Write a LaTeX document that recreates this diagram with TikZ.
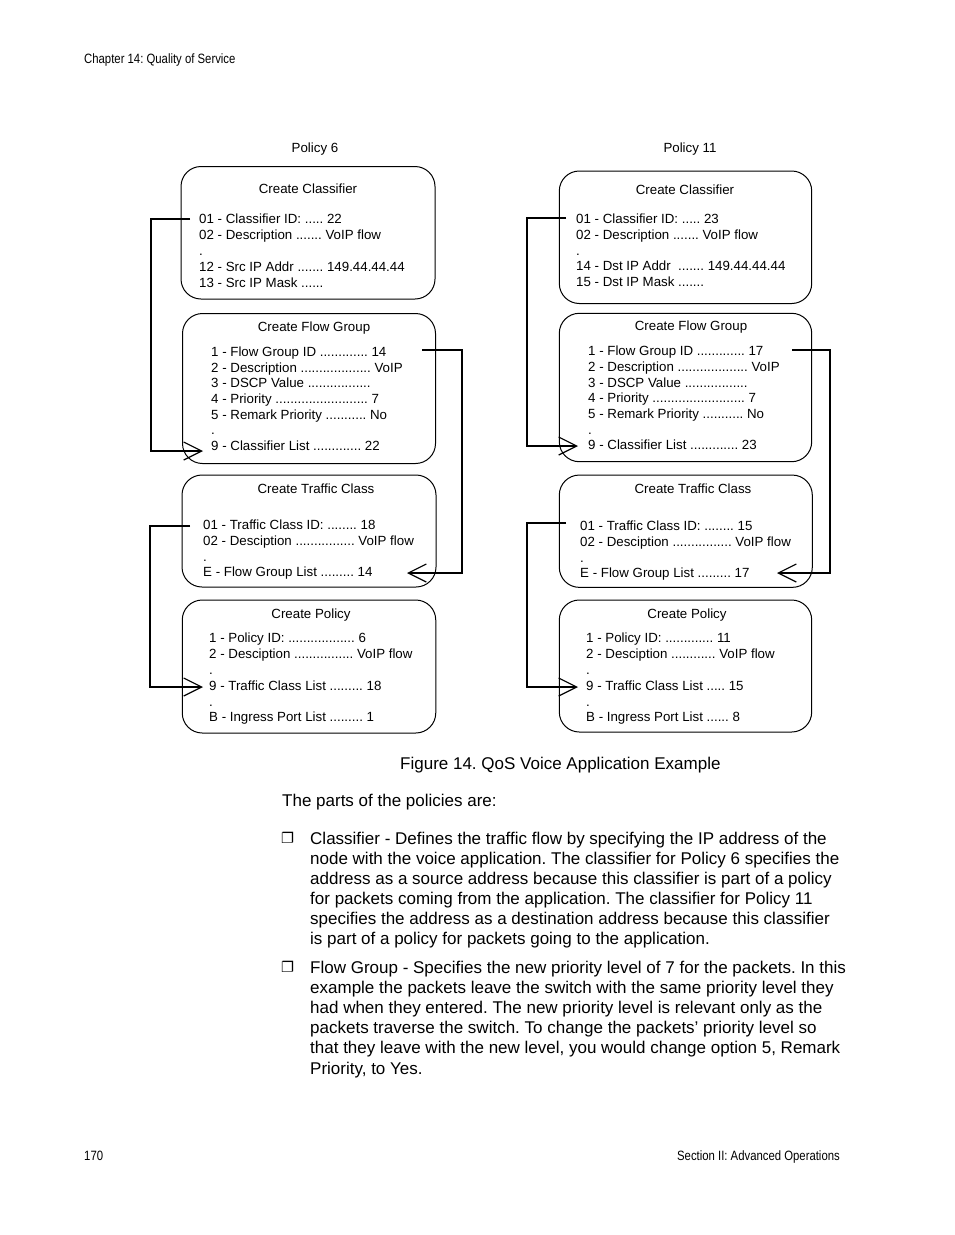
\documentclass[tikz,border=0pt]{standalone}
\usepackage{fontspec}
\setmainfont{Liberation Sans}
\newfontfamily\narrowfont[FakeStretch=0.84]{Liberation Sans}
\newfontfamily\dingfont{DejaVu Sans}
\usetikzlibrary{arrows.meta}
\newcommand{\dl}[4]{\node[dtxt] (#1) at (#2,#3) {#4};}
\frenchspacing
\begin{document}
\frenchspacing
\begin{tikzpicture}[x=1pt,y=-1pt,
  box/.style={draw=black, line width=1pt, rounded corners=20pt, inner sep=0pt},
  dtxt/.style={font=\fontsize{13.3}{15.8}\selectfont, inner sep=0pt, anchor=base west},
  dtitle/.style={font=\fontsize{13.3}{15.8}\selectfont, inner sep=0pt, anchor=base},
  btxt/.style={font=\fontsize{17}{20}\selectfont, inner sep=0pt, anchor=base west},
  ntxt/.style={font=\narrowfont\fontsize{13.5}{16}\selectfont, inner sep=0pt},
  bul/.style={font=\dingfont\fontsize{14.5}{15}\selectfont, inner sep=0pt, anchor=base west},
  conn/.style={line width=1.2pt, -{Straight Barb[length=18pt,width=18pt]}}]
\fill[white] (0,0) rectangle (954,1235);
\useasboundingbox (0,0) rectangle (954,1235);

% header / footer
\node[ntxt, anchor=base west] (hdr) at (84,63) {Chapter 14: Quality of Service};
\node[ntxt, anchor=base west] (pg) at (84,1160) {170};
\node[ntxt, anchor=base east] (sec) at (840,1160) {Section II: Advanced Operations};

% policy titles
\node[dtitle] (p6) at (315,152.8) {Policy 6};
\node[dtitle] (p11) at (690,152.8) {Policy 11};

% boxes left
\node[box, minimum width=254pt, minimum height=132.5pt] (L1) at (308,232.75) {};
\node[box, minimum width=253pt, minimum height=150pt] (L2) at (309,388.5) {};
\node[box, minimum width=254pt, minimum height=112pt] (L3) at (309,531) {};
\node[box, minimum width=253.5pt, minimum height=133pt] (L4) at (309,666.5) {};
% boxes right
\node[box, minimum width=252.4pt, minimum height=132.5pt] (R1) at (685.5,237.25) {};
\node[box, minimum width=252.4pt, minimum height=148.4pt] (R2) at (685.5,387.5) {};
\node[box, minimum width=253pt, minimum height=112.3pt] (R3) at (685.8,531.2) {};
\node[box, minimum width=252.4pt, minimum height=132pt] (R4) at (685.5,666) {};

% box titles
\node[dtitle] (L1t) at (308,193.8) {Create Classifier};
\node[dtitle] (L2t) at (314,331.8) {Create Flow Group};
\node[dtitle] (L3t) at (316,493.8) {Create Traffic Class};
\node[dtitle] (L4t) at (311,618.8) {Create Policy};
\node[dtitle] (R1t) at (685,194.8) {Create Classifier};
\node[dtitle] (R2t) at (691,330.8) {Create Flow Group};
\node[dtitle] (R3t) at (693,493.8) {Create Traffic Class};
\node[dtitle] (R4t) at (687,618.8) {Create Policy};

% box contents left
\dl{L1a}{199}{223.8}{01 - Classifier ID: ..... 22}
\dl{L1b}{199}{239.6}{02 - Description ....... VoIP flow}
\dl{L1c}{199}{255.4}{.}
\dl{L1d}{199}{271.2}{12 - Src IP Addr ....... 149.44.44.44}
\dl{L1e}{199}{287.0}{13 - Src IP Mask ......}

\dl{L2a}{211}{356.6}{1 - Flow Group ID ............. 14}
\dl{L2b}{211}{372.25}{2 - Description ................... VoIP}
\dl{L2c}{211}{387.9}{3 - DSCP Value .................}
\dl{L2d}{211}{403.55}{4 - Priority ......................... 7}
\dl{L2e}{211}{419.2}{5 - Remark Priority ........... No}
\dl{L2f}{211}{434.85}{.}
\dl{L2g}{211}{450.5}{9 - Classifier List ............. 22}

\dl{L3a}{203}{529.8}{01 - Traffic Class ID: ........ 18}
\dl{L3b}{203}{545.4}{02 - Desciption ................ VoIP flow}
\dl{L3c}{203}{561.0}{.}
\dl{L3d}{203}{576.6}{E - Flow Group List ......... 14}

\dl{L4a}{209}{642.8}{1 - Policy ID: .................. 6}
\dl{L4b}{209}{658.6}{2 - Desciption ................ VoIP flow}
\dl{L4c}{209}{674.4}{.}
\dl{L4d}{209}{690.2}{9 - Traffic Class List ......... 18}
\dl{L4e}{209}{706.0}{.}
\dl{L4f}{209}{721.8}{B - Ingress Port List ......... 1}

% box contents right
\dl{R1a}{576}{223.8}{01 - Classifier ID: ..... 23}
\dl{R1b}{576}{239.5}{02 - Description ....... VoIP flow}
\dl{R1c}{576}{255.2}{.}
\dl{R1d}{576}{270.9}{14 - Dst IP Addr \ ....... 149.44.44.44}
\dl{R1e}{576}{286.6}{15 - Dst IP Mask .......}

\dl{R2a}{588}{355.8}{1 - Flow Group ID ............. 17}
\dl{R2b}{588}{371.45}{2 - Description ................... VoIP}
\dl{R2c}{588}{387.1}{3 - DSCP Value .................}
\dl{R2d}{588}{402.75}{4 - Priority ......................... 7}
\dl{R2e}{588}{418.4}{5 - Remark Priority ........... No}
\dl{R2f}{588}{434.05}{.}
\dl{R2g}{588}{449.7}{9 - Classifier List ............. 23}

\dl{R3a}{580}{530.8}{01 - Traffic Class ID: ........ 15}
\dl{R3b}{580}{546.4}{02 - Desciption ................ VoIP flow}
\dl{R3c}{580}{562.0}{.}
\dl{R3d}{580}{577.6}{E - Flow Group List ......... 17}

\dl{R4a}{586}{642.8}{1 - Policy ID: ............. 11}
\dl{R4b}{586}{658.6}{2 - Desciption ............ VoIP flow}
\dl{R4c}{586}{674.4}{.}
\dl{R4d}{586}{690.2}{9 - Traffic Class List ..... 15}
\dl{R4e}{586}{706.0}{.}
\dl{R4f}{586}{721.8}{B - Ingress Port List ...... 8}

% connector end points
\coordinate (s1) at (190,219);   \coordinate (t1) at (203,451);
\coordinate (s2) at (422,350);   \coordinate (t2) at (407,573);
\coordinate (s3) at (190,526);   \coordinate (t3) at (203,687);
\coordinate (s4) at (566,218);   \coordinate (t4) at (578,446);
\coordinate (s5) at (792,350);   \coordinate (t5) at (777,573);
\coordinate (s6) at (566,523);   \coordinate (t6) at (578,687);

\draw[conn] (s1) -- ++(-39,0) |- (t1);
\draw[conn] (s2) -- ++(40,0) |- (t2);
\draw[conn] (s3) -- ++(-40,0) |- (t3);
\draw[conn] (s4) -- ++(-39,0) |- (t4);
\draw[conn] (s5) -- ++(38,0) |- (t5);
\draw[conn] (s6) -- ++(-39,0) |- (t6);

% caption
\node[btxt] (cap) at (400,769) {Figure 14. QoS Voice Application Example};

% body text
\node[btxt] (intro) at (282,806) {The parts of the policies are:};
\node[bul] (b1) at (281,843) {❐};
\node[btxt] (a1) at (310,844) {Classifier - Defines the traffic flow by specifying the IP address of the};
\node[btxt] (a2) at (310,864) {node with the voice application. The classifier for Policy 6 specifies the};
\node[btxt] (a3) at (310,884) {address as a source address because this classifier is part of a policy};
\node[btxt] (a4) at (310,904) {for packets coming from the application. The classifier for Policy 11};
\node[btxt] (a5) at (310,924) {specifies the address as a destination address because this classifier};
\node[btxt] (a6) at (310,944) {is part of a policy for packets going to the application.};
\node[bul] (b2) at (281,972) {❐};
\node[btxt] (c1) at (310,973) {Flow Group - Specifies the new priority level of 7 for the packets. In this};
\node[btxt] (c2) at (310,993) {example the packets leave the switch with the same priority level they};
\node[btxt] (c3) at (310,1013) {had when they entered. The new priority level is relevant only as the};
\node[btxt] (c4) at (310,1033) {packets traverse the switch. To change the packets’ priority level so};
\node[btxt] (c5) at (310,1053) {that they leave with the new level, you would change option 5, Remark};
\node[btxt] (c6) at (310,1074) {Priority, to Yes.};
\end{tikzpicture}
\end{document}
